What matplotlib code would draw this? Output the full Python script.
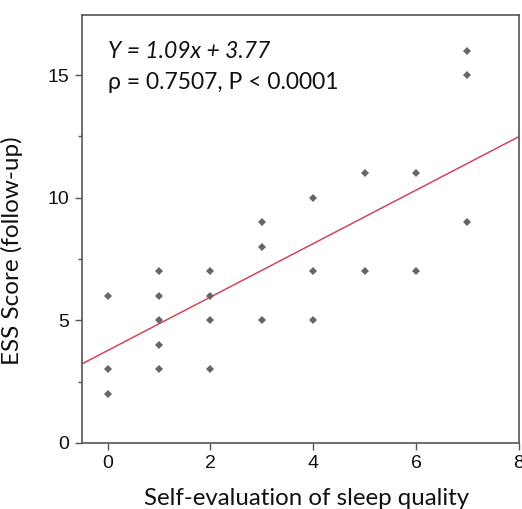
import numpy as np
import matplotlib
matplotlib.use("Agg")
import matplotlib.pyplot as plt
from matplotlib.ticker import MultipleLocator

# data
sleep_quality = [0, 0, 0,
                 1, 1, 1, 1, 1,
                 2, 2, 2, 2,
                 3, 3, 3,
                 4, 4, 4,
                 5, 5,
                 6, 6,
                 7, 7, 7]
ess_score = [6, 3, 2,
             7, 6, 5, 4, 3,
             7, 6, 5, 3,
             9, 8, 5,
             10, 7, 5,
             11, 7,
             11, 7,
             16, 15, 9]

slope = 1.09
intercept = 3.77
fit_label = "Y = 1.09x + 3.77"
corr_label = "ρ = 0.7507, P < 0.0001"

LABEL_FONT = ["Lato", "DejaVu Sans"]
TICK_FONT = ["Liberation Sans", "DejaVu Sans"]

fig = plt.figure(figsize=(5.22, 5.09), dpi=100)
ax = fig.add_axes([0.157, 0.1297, 0.837, 0.8408])

ax.plot(sleep_quality, ess_score, linestyle="none", marker="D",
        markersize=4.0, color="#666666", markeredgewidth=0, zorder=3)

xl = np.array([-0.5, 8.0])
ax.plot(xl, slope * xl + intercept, color="#d0475a", linewidth=1.1, zorder=2)

ax.set_xlim(-0.5, 8)
ax.set_ylim(0, 17.45)
ax.xaxis.set_major_locator(MultipleLocator(2))
ax.yaxis.set_major_locator(MultipleLocator(5))
ax.yaxis.set_minor_locator(MultipleLocator(2.5))

for sp in ax.spines.values():
    sp.set_color("#555555")
    sp.set_linewidth(1.2)

ax.tick_params(axis="both", which="major", direction="out", length=5,
               width=1.0, color="#555555", labelsize=14, pad=4)
ax.tick_params(axis="y", which="minor", direction="out", length=3,
               width=1.0, color="#555555")
for lab in ax.get_xticklabels() + ax.get_yticklabels():
    lab.set_family(TICK_FONT)
    lab.set_color("#111111")

# keep the label just inside the bottom edge so descenders are not clipped
ax.set_xlabel("Self-evaluation of sleep quality", fontsize=17.3,
              family=LABEL_FONT, color="#111111")
ax.xaxis.set_label_coords(0.515, -0.106, transform=ax.transAxes)
ax.set_ylabel("ESS Score (follow-up)", fontsize=17.5,
              family=LABEL_FONT, color="#111111")
ax.yaxis.set_label_coords(-0.135, 0.45)

ax.text(0.06, 0.94, fit_label, transform=ax.transAxes, fontsize=16.5,
        style="italic", family=LABEL_FONT, va="top", ha="left", color="#111111")
ax.text(0.06, 0.868, corr_label, transform=ax.transAxes, fontsize=16.5,
        family=LABEL_FONT, va="top", ha="left", color="#111111")

fig.savefig("out.png", dpi=100)
